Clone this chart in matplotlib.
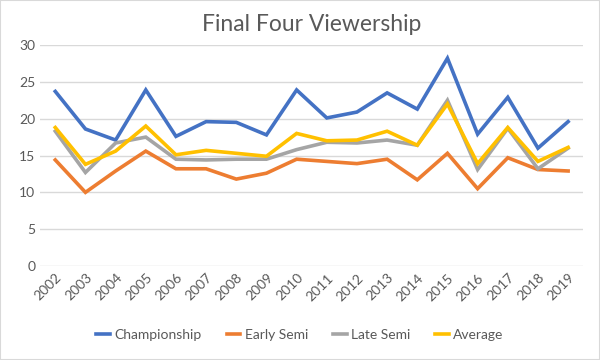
import matplotlib.pyplot as plt

plt.rcParams['font.family'] = ['Lato', 'DejaVu Sans']

years = [str(y) for y in range(2002, 2020)]
championship = [23.7, 18.6, 17.1, 23.9, 17.6, 19.6, 19.5, 17.8, 23.9, 20.1, 20.9, 23.5, 21.3, 28.2, 17.9, 22.9, 16.0, 19.6]
early_semi = [14.4, 10.0, 12.9, 15.6, 13.2, 13.2, 11.8, 12.6, 14.5, 14.2, 13.9, 14.5, 11.7, 15.3, 10.5, 14.7, 13.1, 12.9]
late_semi = [18.3, 12.7, 16.7, 17.5, 14.5, 14.4, 14.5, 14.5, 15.8, 16.8, 16.7, 17.1, 16.4, 22.5, 13.1, 18.7, 13.2, 16.0]
average = [18.8, 13.8, 15.6, 19.0, 15.1, 15.7, 15.3, 14.9, 18.0, 17.0, 17.1, 18.3, 16.4, 22.0, 13.9, 18.8, 14.2, 16.1]

series = [("Championship", championship, '#4472c4'),
          ("Early Semi", early_semi, '#ed7d31'),
          ("Late Semi", late_semi, '#a5a5a5'),
          ("Average", average, '#ffc000')]

fig = plt.figure(figsize=(6, 3.6), dpi=100)
ax = fig.add_axes([0.067, 0.261, 0.905, 0.614])
x = range(len(years))
for name, vals, col in series:
    ax.plot(x, vals, color=col, lw=2.6, label=name, solid_joinstyle='miter')

ax.set_xlim(-0.5, len(years) - 0.5)
ax.set_ylim(0, 30)
ax.set_yticks(range(0, 31, 5))
ax.set_xticks(list(x))
ax.set_xticklabels(years, rotation=45, ha='right', rotation_mode='anchor')
ax.grid(axis='y', color='#d9d9d9', lw=1)
ax.set_axisbelow(True)
for s in ax.spines.values():
    s.set_visible(False)
ax.tick_params(length=0, colors='#595959', labelsize=10)
ax.tick_params(axis='x', pad=4)
ax.set_title("Final Four Viewership", fontsize=16.5, color='#595959', pad=10)

fig.legend(loc='center', bbox_to_anchor=(0.5, 0.07), ncol=4, frameon=False,
           fontsize=10, labelcolor='#595959', handlelength=1.0,
           handletextpad=0.3, columnspacing=1.8)
fig.patches.append(plt.Rectangle((0, 0), 1, 1, transform=fig.transFigure,
                                 fill=False, edgecolor='#d9d9d9', lw=1.5))
fig.savefig('out.png', dpi=100)
